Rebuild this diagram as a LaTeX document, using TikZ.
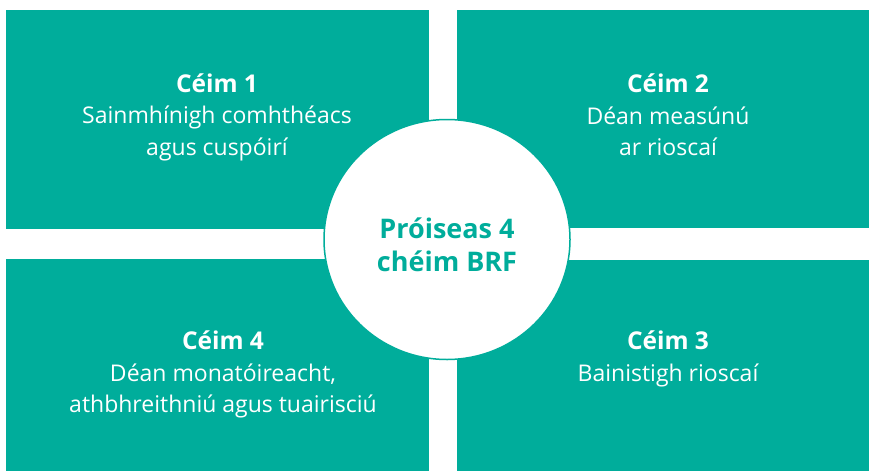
\documentclass[tikz,border=0pt]{standalone}
\usetikzlibrary{shapes.geometric}
\usepackage{fontspec}
\setmainfont{Open Sans}
\definecolor{teal1}{HTML}{00AD9B}
\newcommand{\stephead}[1]{{\bfseries\fontsize{24.5}{31.5}\selectfont #1}}
\begin{document}
\begin{tikzpicture}[x=1pt,y=-1pt,
  panel/.style={fill=teal1,draw=none},
  ptext/.style={text=white,align=center,inner sep=0pt,font=\fontsize{23}{31.5}\selectfont},
  hub/.style={ellipse,draw=teal1,line width=1.5pt,fill=white,minimum width=246pt,minimum height=240pt,inner sep=0pt},
  hubtext/.style={text=teal1,align=center,inner sep=0pt,font=\bfseries\fontsize{27}{33}\selectfont}]
\useasboundingbox[fill=white] (0,0) rectangle (869,471);
\fill[panel] (6,10) rectangle (429,228.5);
\fill[panel] (457,10) rectangle (869,227.5);
\fill[panel] (6,259) rectangle (429,471);
\fill[panel] (457,259.5) rectangle (869,471);
\node[ptext] (s1) at (217,117) {\stephead{Céim 1}\\Sainmhínigh comhthéacs\\agus cuspóirí};
\node[ptext] (s2) at (668,115) {\stephead{Céim 2}\\Déan measúnú\\ar rioscaí};
\node[ptext] (s4) at (223,374.5) {\stephead{Céim 4}\\Déan monatóireacht,\\athbhreithniú agus tuairisciú};
\node[ptext] (s3) at (668,359) {\stephead{Céim 3}\\Bainistigh rioscaí};
\node[hub] (c) at (447,239.5) {};
\node[hubtext] (ct) at (447,245) {Próiseas 4\\chéim BRF};
\end{tikzpicture}
\end{document}
